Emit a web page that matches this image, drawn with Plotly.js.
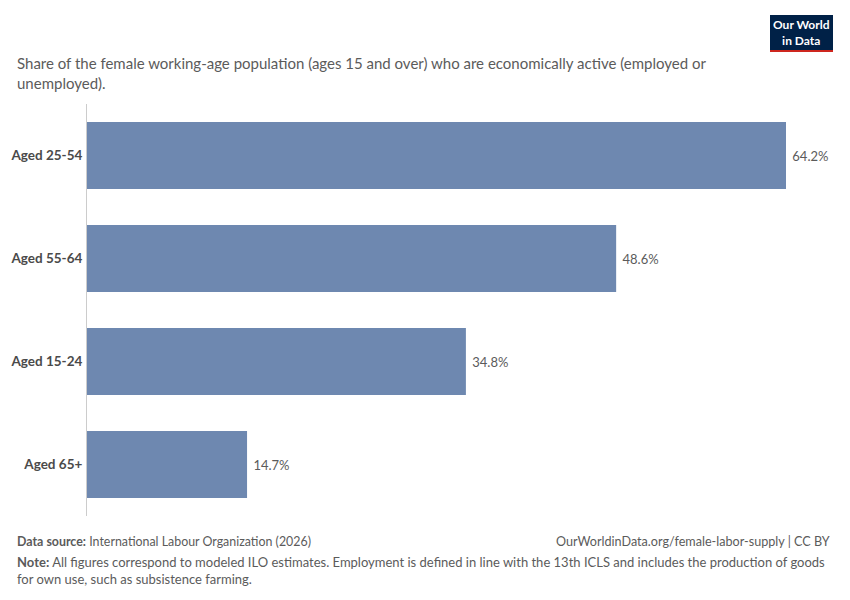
<!DOCTYPE html>
<html>
<head>
<meta charset="utf-8">
<script src="https://cdn.plot.ly/plotly-3.0.1.min.js"></script>
<style>
  html, body { margin: 0; padding: 0; background: #fff; }
  #chart { width: 850px; height: 600px; }
</style>
</head>
<body>
<div id="chart"></div>
<script>
// Female labour force participation by age group
const ageGroups = ['Aged 25-54', 'Aged 55-64', 'Aged 15-24', 'Aged 65+'];
const shares = [64.2, 48.6, 34.8, 14.7];
const valueLabels = ['64.2%', '48.6%', '34.8%', '14.7%'];

const FONT = 'Lato, "Noto Sans", sans-serif';
const GREY = '#5b5b5b';

// plot area in pixels: x 87..786, y 104..516
function px(xp) { return (xp - 87) / 699; }
function py(yp) { return (516 - yp) / 412; }

const traces = [{
    type: 'bar',
    orientation: 'h',
    x: shares,
    y: ageGroups,
    text: valueLabels,
    texttemplate: ' %{text}',
    textposition: 'outside',
    cliponaxis: false,
    textfont: { family: FONT, size: 13, color: GREY },
    marker: { color: '#6e88b0' },
    hoverinfo: 'none'
}];

const layout = {
    width: 850,
    height: 600,
    margin: { t: 104, b: 84, l: 87, r: 64 },
    paper_bgcolor: '#fff',
    plot_bgcolor: '#fff',
    bargap: 0.35,
    showlegend: false,
    font: { family: FONT, color: GREY },
    xaxis: {
        range: [0, 64.2],
        visible: false,
        fixedrange: true
    },
    yaxis: {
        autorange: 'reversed',
        showline: true,
        linecolor: '#cccccc',
        linewidth: 1,
        showgrid: false,
        ticks: '',
        ticklabelstandoff: 1,
        tickfont: { family: FONT, size: 13.5, color: '#4a4a4a', weight: 'bold' },
        fixedrange: true
    },
    shapes: [
        { type: 'rect', xref: 'paper', yref: 'paper', layer: 'above',
          x0: px(770), x1: px(833), y0: py(50), y1: py(15),
          fillcolor: '#002147', line: { width: 0 } },
        { type: 'rect', xref: 'paper', yref: 'paper', layer: 'above',
          x0: px(770), x1: px(833), y0: py(52), y1: py(50),
          fillcolor: '#ce261e', line: { width: 0 } }
    ],
    annotations: [
        {
            text: 'Our World<br>in Data',
            xref: 'paper', yref: 'paper', xanchor: 'center', yanchor: 'middle', align: 'center',
            x: px(801.5), y: py(32.5),
            showarrow: false,
            font: { family: FONT, size: 12, color: '#fff', weight: 'bold' }
        },
        {
            text: 'Share of the female working-age population (ages 15 and over) who are economically active (employed or<br>unemployed).',
            xref: 'paper', yref: 'paper', xanchor: 'left', yanchor: 'top', align: 'left',
            x: px(15), y: py(52),
            showarrow: false,
            font: { family: FONT, size: 15, color: GREY }
        },
        {
            text: '<b>Data source:</b> International Labour Organization (2026)',
            xref: 'paper', yref: 'paper', xanchor: 'left', yanchor: 'top', align: 'left',
            x: px(15), y: py(532),
            showarrow: false,
            font: { family: FONT, size: 12.4, color: GREY }
        },
        {
            text: 'OurWorldinData.org/female-labor-supply | CC BY',
            xref: 'paper', yref: 'paper', xanchor: 'right', yanchor: 'top', align: 'right',
            x: px(832), y: py(532),
            showarrow: false,
            font: { family: FONT, size: 12.6, color: GREY }
        },
        {
            text: '<b>Note:</b> All figures correspond to modeled ILO estimates. Employment is defined in line with the 13th ICLS and includes the production of goods<br>for own use, such as subsistence farming.',
            xref: 'paper', yref: 'paper', xanchor: 'left', yanchor: 'top', align: 'left',
            x: px(15), y: py(552),
            showarrow: false,
            font: { family: FONT, size: 13, color: GREY }
        }
    ]
};

Plotly.newPlot('chart', traces, layout, { displayModeBar: false, staticPlot: true });
</script>
</body>
</html>
